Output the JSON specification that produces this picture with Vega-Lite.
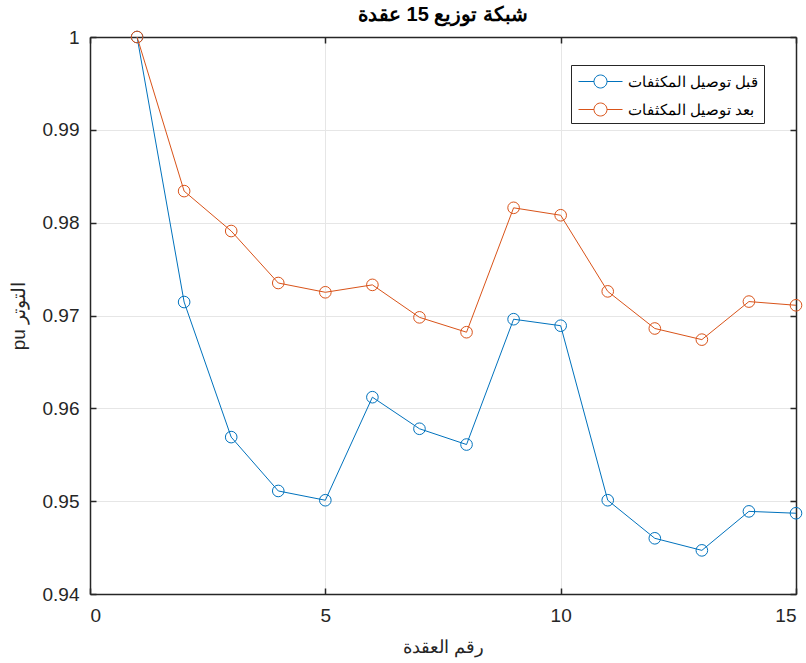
{
  "$schema": "https://vega.github.io/schema/vega-lite/v6.json",
  "width": 706,
  "height": 557,
  "autosize": {"type": "none"},
  "padding": {"left": 90, "top": 37, "right": 10, "bottom": 69},
  "background": "white",
  "title": {"text": "شبكة توزيع 15 عقدة", "fontSize": 20, "fontWeight": "bold", "font": "Liberation Sans", "color": "#000000", "offset": 3, "anchor": "middle"},
  "config": {
    "view": {"stroke": null},
    "font": "Liberation Sans",
    "axis": {
      "domainColor": "#262626", "domainWidth": 1.5,
      "tickColor": "#262626", "tickWidth": 1.5, "tickSize": -6,
      "labelColor": "#262626", "labelFontSize": 19, "labelFont": "Liberation Sans",
      "titleColor": "#262626", "titleFontSize": 19, "titleFontWeight": "normal", "titleFont": "Liberation Sans",
      "gridColor": "#e6e6e6", "gridWidth": 1
    }
  },
  "data": {"values": [
    {"node": 1, "v": 1.0, "series": "قبل توصيل المكثفات"},
    {"node": 2, "v": 0.97145, "series": "قبل توصيل المكثفات"},
    {"node": 3, "v": 0.9569, "series": "قبل توصيل المكثفات"},
    {"node": 4, "v": 0.9511, "series": "قبل توصيل المكثفات"},
    {"node": 5, "v": 0.9501, "series": "قبل توصيل المكثفات"},
    {"node": 6, "v": 0.9612, "series": "قبل توصيل المكثفات"},
    {"node": 7, "v": 0.9578, "series": "قبل توصيل المكثفات"},
    {"node": 8, "v": 0.9561, "series": "قبل توصيل المكثفات"},
    {"node": 9, "v": 0.9696, "series": "قبل توصيل المكثفات"},
    {"node": 10, "v": 0.9689, "series": "قبل توصيل المكثفات"},
    {"node": 11, "v": 0.9501, "series": "قبل توصيل المكثفات"},
    {"node": 12, "v": 0.9460, "series": "قبل توصيل المكثفات"},
    {"node": 13, "v": 0.9447, "series": "قبل توصيل المكثفات"},
    {"node": 14, "v": 0.9489, "series": "قبل توصيل المكثفات"},
    {"node": 15, "v": 0.9487, "series": "قبل توصيل المكثفات"},
    {"node": 1, "v": 1.0, "series": "بعد توصيل المكثفات"},
    {"node": 2, "v": 0.9834, "series": "بعد توصيل المكثفات"},
    {"node": 3, "v": 0.9791, "series": "بعد توصيل المكثفات"},
    {"node": 4, "v": 0.9735, "series": "بعد توصيل المكثفات"},
    {"node": 5, "v": 0.9725, "series": "بعد توصيل المكثفات"},
    {"node": 6, "v": 0.9733, "series": "بعد توصيل المكثفات"},
    {"node": 7, "v": 0.9698, "series": "بعد توصيل المكثفات"},
    {"node": 8, "v": 0.9682, "series": "بعد توصيل المكثفات"},
    {"node": 9, "v": 0.9816, "series": "بعد توصيل المكثفات"},
    {"node": 10, "v": 0.9808, "series": "بعد توصيل المكثفات"},
    {"node": 11, "v": 0.9726, "series": "بعد توصيل المكثفات"},
    {"node": 12, "v": 0.9686, "series": "بعد توصيل المكثفات"},
    {"node": 13, "v": 0.9674, "series": "بعد توصيل المكثفات"},
    {"node": 14, "v": 0.9715, "series": "بعد توصيل المكثفات"},
    {"node": 15, "v": 0.9711, "series": "بعد توصيل المكثفات"}
  ]},
  "resolve": {"axis": {"x": "independent", "y": "independent"}},
  "layer": [
    {
      "mark": {"type": "line", "strokeWidth": 1, "point": {"filled": false, "size": 135, "strokeWidth": 1}},
      "encoding": {
        "x": {"field": "node", "type": "quantitative",
              "scale": {"domain": [0, 15], "nice": false, "zero": false},
              "axis": {"orient": "bottom", "values": [0, 5, 10, 15], "grid": true, "title": "رقم العقدة", "titleFontSize": 18, "titlePadding": 13, "labelPadding": 18}},
        "y": {"field": "v", "type": "quantitative",
              "scale": {"domain": [0.94, 1], "nice": false, "zero": false},
              "axis": {"orient": "left", "values": [0.94, 0.95, 0.96, 0.97, 0.98, 0.99, 1], "format": ".2~f", "grid": true, "title": "pu التوتر", "titlePadding": 14, "labelPadding": 17}},
        "color": {"field": "series", "type": "nominal",
                  "sort": ["قبل توصيل المكثفات", "بعد توصيل المكثفات"],
                  "scale": {"domain": ["قبل توصيل المكثفات", "بعد توصيل المكثفات"], "range": ["#0072BD", "#D95319"]},
                  "legend": {"orient": "none", "legendX": 481, "legendY": 28, "title": null,
                             "symbolType": "M-2,0L-0.59,0M0.59,0L2,0M0.59,0A0.59,0.59,0,1,1,-0.59,0A0.59,0.59,0,1,1,0.59,0",
                             "symbolSize": 484, "symbolOffset": 13, "symbolFillColor": "transparent", "symbolStrokeWidth": 1,
                             "labelFontSize": 15, "labelFont": "Liberation Sans", "labelColor": "#000000",
                             "strokeColor": "#262626", "fillColor": "white", "padding": 5, "rowPadding": 8,
                             "labelOffset": 16}}
      }
    },
    {
      "mark": {"type": "point", "opacity": 0},
      "encoding": {
        "x": {"field": "node", "type": "quantitative",
              "scale": {"domain": [0, 15], "nice": false, "zero": false},
              "axis": {"orient": "top", "values": [0, 5, 10, 15], "labels": false, "grid": false, "title": null}},
        "y": {"field": "v", "type": "quantitative",
              "scale": {"domain": [0.94, 1], "nice": false, "zero": false},
              "axis": {"orient": "right", "values": [0.94, 0.95, 0.96, 0.97, 0.98, 0.99, 1], "labels": false, "grid": false, "title": null}}
      }
    }
  ]
}
